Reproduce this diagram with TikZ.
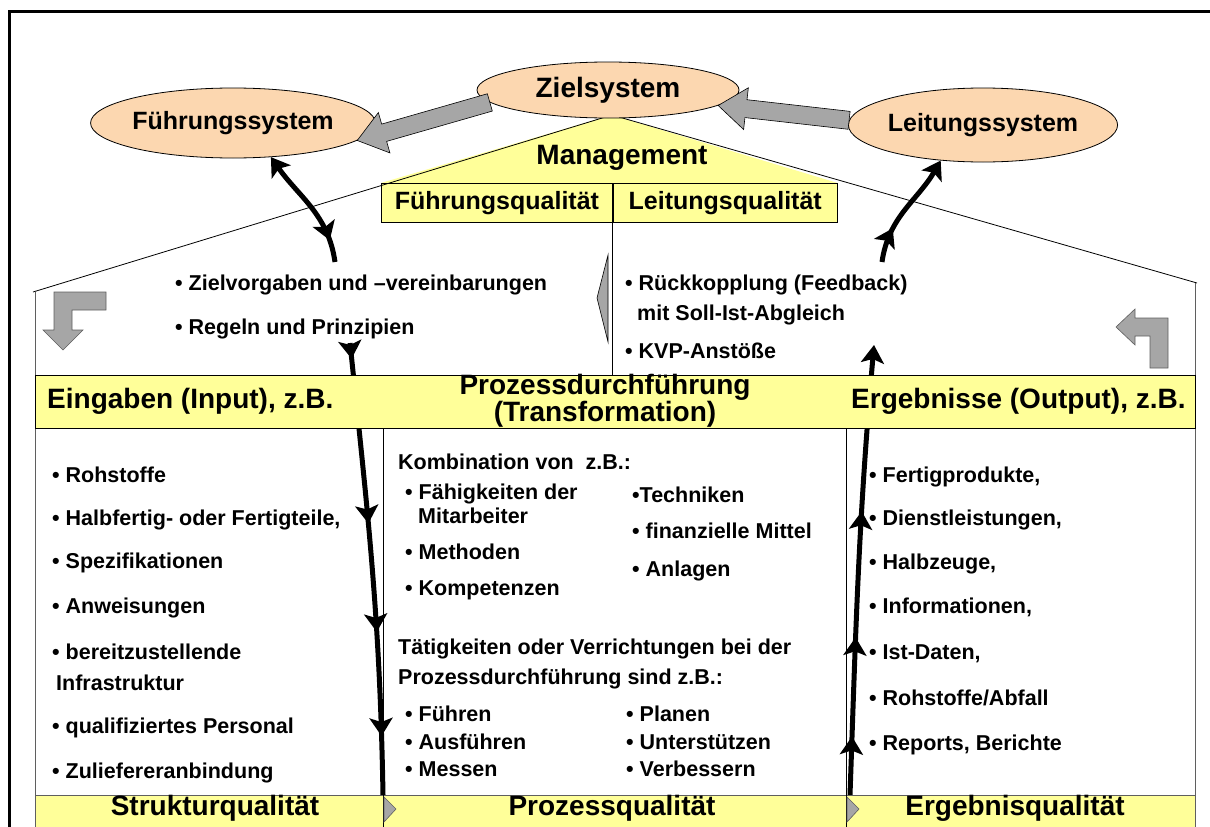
\documentclass[tikz,border=0pt]{standalone}
\usepackage{fontspec}
\setmainfont{Liberation Sans}
\usetikzlibrary{shapes.geometric,calc,arrows.meta,decorations.markings}
\definecolor{hellgelb}{RGB}{255,255,153}
\definecolor{pfirsich}{RGB}{252,215,176}
\definecolor{pfeilgrau}{RGB}{166,166,166}
\definecolor{wandgrau}{RGB}{95,95,95}
\tikzset{spitze/.tip={Stealth[length=18pt,width=23pt,inset=4pt]}}
% grauer Blockpfeil von #1 nach #2
\newcommand\grauerpfeil[2]{%
  \filldraw[grau]
    ($(#1)!9pt!90:(#2)$) --
    ($(#2)!28pt!(#1)!9pt!-90:(#1)$) --
    ($(#2)!28pt!(#1)!21pt!-90:(#1)$) --
    (#2) --
    ($(#2)!28pt!(#1)!21pt!90:(#1)$) --
    ($(#2)!28pt!(#1)!9pt!90:(#1)$) --
    ($(#1)!9pt!-90:(#2)$) -- cycle;}

\begin{document}
\begin{tikzpicture}[x=1pt,y=1pt,
  sys/.style={ellipse,draw,fill=pfirsich,line width=0.8pt,inner sep=0pt,font=\bfseries\fontsize{25}{25}\selectfont},
  qual/.style={draw,fill=hellgelb,line width=0.8pt,minimum height=39pt,minimum width=#1,inner sep=0pt,font=\bfseries\fontsize{25}{25}\selectfont},
  kopf/.style={inner sep=0pt,align=center,font=\bfseries\fontsize{28}{26.5}\selectfont},
  txt/.style={anchor=base west,inner sep=0pt,font=\bfseries\fontsize{21.5}{21.5}\selectfont},
  fluss/.style={line width=5pt},
  pf/.style={postaction={decorate,decoration={markings,mark=at position #1 with {\arrow{spitze}}}}},
  grau/.style={fill=pfeilgrau,draw=black,line width=0.6pt},
  wand/.style={draw=wandgrau,line width=0.8pt}]
\useasboundingbox (0,0) rectangle (1210,-827);

% Rahmen
\draw[line width=3pt] (9,-827) -- (9,-11) -- (1210,-11);

% Dach und Waende
\coordinate (dach) at (612,-115);
\coordinate (dl) at (33,-292);
\coordinate (dr) at (1197,-283);
\node[qual=231pt,anchor=north west] (fq) at (381,-183) {Führungsqualität};
\node[qual=224pt,anchor=north west] (lq) at (fq.north east) {Leitungsqualität};
\fill[hellgelb] (dach) -- (fq.north west) -- (lq.north east) -- cycle;
\node[qual=231pt,anchor=north west] at (381,-183) {Führungsqualität};
\node[qual=224pt,anchor=north west] at (fq.north east) {Leitungsqualität};
\draw[line width=0.8pt] (dl) -- (dach) -- (dr);
\draw[wand] (35,-292) -- (35,-827);
\draw[wand] (1195,-283) -- (1195,-827);
\draw[line width=0.8pt] (fq.south east) -- (fq.south east |- 0,-375);
\draw[line width=0.8pt] (383,-428) -- (383,-827);
\draw[line width=0.8pt] (846,-428) -- (846,-827);
\node[kopf] (mgmt) at (622,-158) {Management};

% Systeme
\node[sys,minimum width=262pt,minimum height=56pt,font=\bfseries\fontsize{28}{28}\selectfont] (zs) at (608,-90) {Zielsystem};
\node[sys,minimum width=237pt,minimum height=70pt] (fs) at (233,-123) {Führungssystem};
\node[sys,minimum width=231pt,minimum height=74pt] (ls) at (983,-125) {Leitungssystem};
\grauerpfeil{zs.186}{fs.-8}
\grauerpfeil{ls.178}{zs.-8}

% Regelkreis
\coordinate (fz) at (335,-262);
\coordinate (lz) at (882,-262);
\coordinate (ein1) at (350,-343);
\coordinate (ein2) at (383,-795);
\coordinate (aus1) at (850,-795);
\coordinate (aus2) at (874,-345);
\draw[fluss,spitze-,pf=0.82] (fs.-42) to[out=-55,in=98] (fz);
\draw[fluss,-spitze,pf=0.3] (lz) to[out=82,in=-120] (ls.-140);
\draw[fluss,pf=0.035,pf=0.40,pf=0.64,pf=0.87] (ein1) to[out=-84,in=91] (ein2);
\draw[fluss,-spitze,pf=0.13,pf=0.35,pf=0.63] (aus1) to[out=88,in=-95] (aus2);

% Balken
\filldraw[fill=hellgelb,draw=black,line width=0.8pt] (35,-375) rectangle (1195,-428);
\filldraw[fill=hellgelb,draw=wandgrau,line width=0.8pt] (35,-795) rectangle (1195,-830);
\draw[line width=0.8pt] (383,-795) -- (383,-827);
\draw[line width=0.8pt] (846,-795) -- (846,-827);
\filldraw[grau,draw=wandgrau] (384,-797) -- (396,-809) -- (384,-822) -- cycle;
\filldraw[grau,draw=wandgrau] (847,-797) -- (859,-809) -- (847,-822) -- cycle;
\node[kopf,anchor=west] (input) at (47,-401) {Eingaben (Input), z.B.};
\node[kopf] (trafo) at (605,-401) {Prozessdurchführung\\(Transformation)};
\node[kopf,anchor=west] (output) at (851,-401) {Ergebnisse (Output), z.B.};
\node[kopf] (sq) at (215,-808) {Strukturqualität};
\node[kopf] (pq) at (612,-808) {Prozessqualität};
\node[kopf] (eq) at (1015,-808) {Ergebnisqualität};

% graue Pfeile
\filldraw[grau,draw=wandgrau] (106,-292) -- (54,-292) -- (54,-330) -- (43,-330) -- (63,-350)
  -- (83,-330) -- (72,-330) -- (72,-310) -- (106,-310) -- cycle;
\filldraw[grau,draw=wandgrau] (1150,-368) -- (1150,-336) -- (1135,-336) -- (1135,-345) -- (1116,-327)
  -- (1135,-309) -- (1135,-318) -- (1168,-318) -- (1168,-368) -- cycle;
\filldraw[grau] (608,-255) -- (597,-298) -- (608,-342) -- cycle;

% Texte oben
\node[txt] (ziel) at (175,-290) {• Zielvorgaben und –vereinbarungen};
\node[txt] (regeln) at (175,-334) {• Regeln und Prinzipien};
\node[txt] (rueck) at (625,-290) {• Rückkopplung (Feedback)};
\node[txt] (soll) at (637,-320) {mit Soll-Ist-Abgleich};
\node[txt] (kvp) at (625,-358) {• KVP-Anstöße};

% Eingaben
\foreach \n/\y/\t in {1/482/Rohstoffe,2/525/{Halbfertig- oder Fertigteile,},3/568/Spezifikationen,
  4/613/Anweisungen,5/659/bereitzustellende,7/733/qualifiziertes Personal,8/778/Zuliefereranbindung} {
  \node[txt] (ein\n) at (52,-\y) {• \t};
}
\node[txt] (ein6) at (56,-690) {Infrastruktur};

% Prozess
\node[txt] (komb) at (398,-469) {Kombination von\ \ z.B.:};
\foreach \n/\y/\t in {1/499/Fähigkeiten der,3/559/Methoden,4/595/Kompetenzen,
  5/721/Führen,6/749/Ausführen,7/776/Messen} {
  \node[txt] (pa\n) at (405,-\y) {• \t};
}
\node[txt] (pa2) at (418,-523) {Mitarbeiter};
\node[txt] (pb1) at (632,-502) {•Techniken};
\foreach \n/\y/\t in {2/538/finanzielle Mittel,3/576/Anlagen} {
  \node[txt] (pb\n) at (632,-\y) {• \t};
}
\foreach \n/\y/\t in {4/721/Planen,5/749/Unterstützen,6/776/Verbessern} {
  \node[txt] (pb\n) at (626,-\y) {• \t};
}
\node[txt] (taet1) at (398,-654) {Tätigkeiten oder Verrichtungen bei der};
\node[txt] (taet2) at (398,-684) {Prozessdurchführung sind z.B.:};

% Ergebnisse
\foreach \n/\y/\t in {1/482/{Fertigprodukte,},2/525/{Dienstleistungen,},3/569/{Halbzeuge,},
  4/613/{Informationen,},5/659/{Ist-Daten,},6/705/{Rohstoffe/Abfall},7/750/{Reports, Berichte}} {
  \node[txt] (aus\n) at (869,-\y) {• \t};
}
\end{tikzpicture}
\end{document}
